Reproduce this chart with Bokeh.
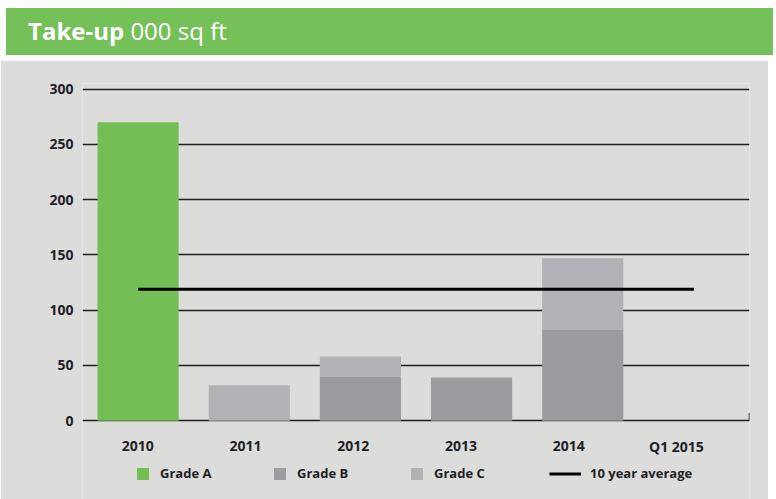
from bokeh.plotting import figure
from bokeh.models import (Range1d, FixedTicker, Legend, LegendItem, Div,
                          ColumnDataSource)
from bokeh.core.properties import value
from bokeh.layouts import column
from bokeh.embed import file_html
from bokeh.resources import INLINE

# ---------------- data ----------------
categories = ["2010", "2011", "2012", "2013", "2014", "Q1 2015"]
series_names = ["Grade A", "Grade B", "Grade C"]
grade_a = [270, 0, 0, 0, 0, 0]
grade_b = [0, 0, 40, 39, 82, 0]
grade_c = [0, 32, 18, 0, 65, 0]
ten_year_average = 119
avg_label = "10 year average"
y_ticks = [0, 50, 100, 150, 200, 250, 300]
title_bold = "Take-up"
title_rest = "000 sq ft"

# ---------------- style ----------------
BG = "#dcdddb"
HEADER = "#76c05a"
COLORS = ["#74be56", "#9b9c9f", "#b1b2b6"]
TEXT = "#1e1e26"
GRID = "#1e1e1e"
FONT = "Open Sans"

idx = list(range(len(categories)))
source = ColumnDataSource(dict(x=idx, cat=categories,
                               **{series_names[0]: grade_a,
                                  series_names[1]: grade_b,
                                  series_names[2]: grade_c}))

# frame extends below zero so that the category labels and legend sit inside it
p = figure(x_range=Range1d(-0.5, len(categories) - 0.5),
           y_range=Range1d(-73.1, 305),
           width=768, height=441,
           output_backend="svg", toolbar_location=None,
           x_axis_location=None,
           min_border_left=82, min_border_right=19,
           min_border_top=23, min_border_bottom=0,
           background_fill_color=BG, border_fill_color=BG,
           outline_line_color=None)

# bars
bars = p.vbar_stack(series_names, x="x", width=0.73, source=source,
                    fill_color=COLORS, line_color=None)

# 10 year average line
avg = p.segment(x0=[idx[0]], x1=[idx[-1]],
                y0=[ten_year_average], y1=[ten_year_average],
                line_width=3, line_color="#000000")

# grid (the 0 line acts as the category axis line)
p.xgrid.visible = False
p.ygrid.ticker = FixedTicker(ticks=y_ticks)
p.ygrid.grid_line_color = GRID
p.ygrid.grid_line_width = 1.4

# y axis
p.yaxis.ticker = FixedTicker(ticks=y_ticks)
p.yaxis.axis_line_color = None
p.yaxis.major_tick_line_color = None
p.yaxis.minor_tick_line_color = None
p.yaxis.major_label_text_font = FONT
p.yaxis.major_label_text_font_style = "bold"
p.yaxis.major_label_text_font_size = "14px"
p.yaxis.major_label_text_color = TEXT
p.yaxis.major_label_standoff = 3

# category labels (label positions as in the original layout)
lbl_range = Range1d(-0.5125, 5.678)
p.extra_x_ranges = {"lbl": lbl_range}
p.text(x=idx, y=[-22.9] * len(idx), text=categories, x_range_name="lbl",
       text_font=value(FONT), text_font_style="bold", text_font_size="14px",
       text_color=TEXT, text_align="center", text_baseline="middle")

# small end tick on the right of the axis
p.segment(x0=[lbl_range.end], x1=[lbl_range.end], y0=[0], y1=[7],
          x_range_name="lbl", line_color=GRID, line_width=1.6)

# legends
common = dict(orientation="horizontal", glyph_height=15, label_height=15,
              padding=0, margin=0, background_fill_alpha=0,
              border_line_color=None, label_text_font=FONT,
              label_text_font_style="bold", label_text_font_size="13px",
              label_text_color=TEXT)
leg1 = Legend(items=[LegendItem(label=n, renderers=[r])
                     for n, r in zip(series_names, bars)],
              location=(53, 19), glyph_width=15, label_standoff=10,
              label_width=60, spacing=52, **common)
leg2 = Legend(items=[LegendItem(label=avg_label, renderers=[avg])],
              location=(467, 19), glyph_width=32, label_standoff=9, **common)
p.add_layout(leg1)
p.add_layout(leg2)

header = Div(text=(f'<div style="padding-top:3px;padding-left:1px;">'
                   f'<div style="width:767px;height:47px;'
                   f'background:{HEADER};'
                   f'color:#ffffff;font-family:\'Open Sans\';font-size:24px;'
                   f'line-height:45px;padding-left:22px;box-sizing:border-box;'
                   f'white-space:nowrap;"><b>{title_bold}</b> {title_rest}</div></div>'),
             width=768, height=50)

layout = column(header, p, spacing=0)

open("out.html", "w").write(file_html(layout, INLINE))
